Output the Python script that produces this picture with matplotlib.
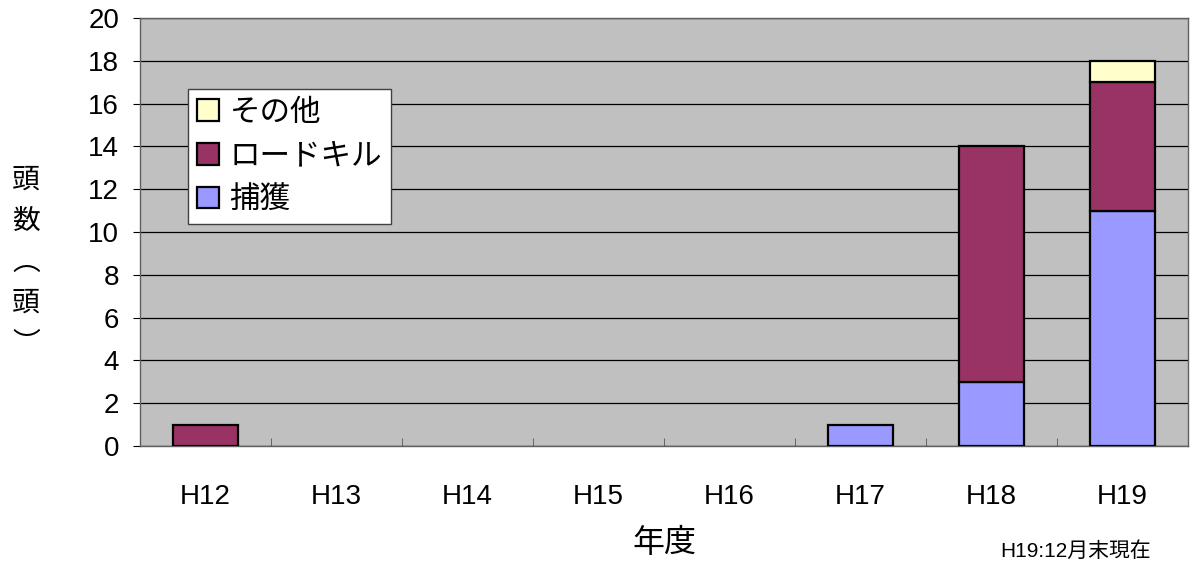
import matplotlib
matplotlib.use('Agg')
import matplotlib.pyplot as plt
import numpy as np

plt.rcParams['font.family'] = ['Liberation Sans', 'Noto Sans CJK JP', 'DejaVu Sans']

years = ['H12', 'H13', 'H14', 'H15', 'H16', 'H17', 'H18', 'H19']
capture = [0, 0, 0, 0, 0, 1, 3, 11]
roadkill = [1, 0, 0, 0, 0, 0, 11, 6]
other = [0, 0, 0, 0, 0, 0, 0, 1]

fig = plt.figure(figsize=(11.9, 5.62), dpi=100)
ax = fig.add_axes([140 / 1190, 1 - 446 / 562, 1048 / 1190, 428 / 562])
ax.set_facecolor('#C0C0C0')

x = np.arange(len(years))
cap = np.array(capture)
rk = np.array(roadkill)
ot = np.array(other)

def stack(vals, base, color, label):
    # skip zero segments so empty years stay blank
    m = vals > 0
    ax.bar(x[m], vals[m], 0.5, bottom=base[m], color=color,
           edgecolor='black', linewidth=1.6, zorder=3, label=label)

stack(cap, np.zeros(len(x)), '#9999FF', '捕獲')
stack(rk, cap, '#993366', 'ロードキル')
stack(ot, cap + rk, '#FFFFCC', 'その他')

ax.set_xlim(-0.5, 7.5)
ax.set_ylim(0, 20)
ax.set_yticks(range(0, 21, 2))
ax.yaxis.grid(True, color='black', linewidth=0.9, zorder=1)
ax.set_axisbelow(True)
ax.set_xticks(x)
ax.set_xticklabels(years)
ax.set_xticks(np.arange(0.5, 7.5, 1), minor=True)
ax.tick_params(axis='x', which='major', length=0, pad=27, labelsize=20)
ax.tick_params(axis='x', which='minor', direction='in', length=6, color='#555555')
ax.tick_params(axis='y', which='major', direction='out', length=5, pad=10, labelsize=20)
for s in ax.spines.values():
    s.set_color('#606060')
    s.set_linewidth(1)

handles, labels = ax.get_legend_handles_labels()
leg = ax.legend(handles[::-1], labels[::-1], loc='upper left',
                bbox_to_anchor=(0.046, 0.835), fontsize=22, frameon=True,
                fancybox=False, edgecolor='#404040', framealpha=1,
                handlelength=0.7, handleheight=0.7, handletextpad=0.35,
                borderpad=0.3, labelspacing=0.45, borderaxespad=0)
leg.get_frame().set_linewidth(1)

ax.set_xlabel('年度', fontsize=23, labelpad=14)
fig.text(26 / 1190, 1 - 263 / 562, '頭\n数\n︵\n頭\n︶', fontsize=20,
         ha='center', va='center', linespacing=1.75)
fig.text(1000 / 1190, 1 - 551 / 562, 'H19:12月末現在', fontsize=15,
         ha='left', va='center')

fig.savefig('out.png', dpi=100)
